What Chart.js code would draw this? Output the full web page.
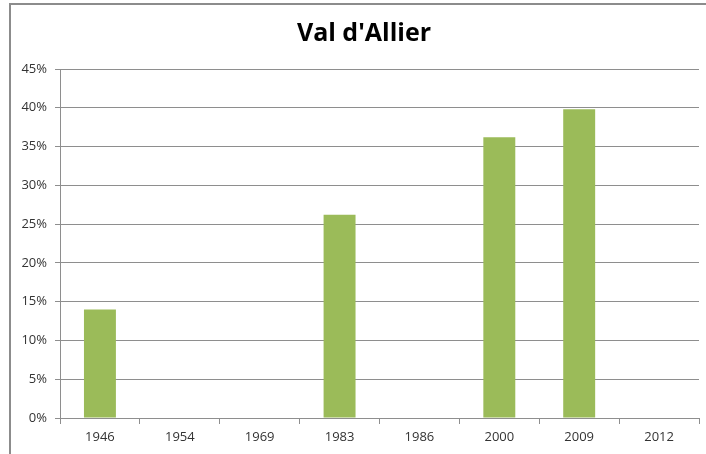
<!DOCTYPE html>
<html>
<head>
<meta charset="utf-8">
<script src="https://cdn.jsdelivr.net/npm/chart.js@4"></script>
<style>
  html, body { margin: 0; padding: 0; background: #fff; }
  #wrap { position: relative; width: 706px; height: 454px; }
  #frame {
    position: absolute; left: 9px; top: 3px; right: -4px; bottom: -4px;
    border-left: 2px solid #8c8c8c; border-top: 2px solid #8c8c8c;
    pointer-events: none;
  }
  canvas { position: absolute; left: 0; top: 0; }
</style>
</head>
<body>
<div id="wrap">
  <canvas id="chart" width="706" height="454"></canvas>
  <div id="frame"></div>
</div>
<script>
const years = ['1946', '1954', '1969', '1983', '1986', '2000', '2009', '2012'];
const shares = [14.0, 0, 0, 26.2, 0, 36.2, 39.8, 0];
const chartTitle = "Val d'Allier";

const gridGray = '#8e8e8e';
const labelColor = '#333333';

// title is centred on the outer frame, not on the canvas
const frameTitle = {
  id: 'frameTitle',
  afterDraw(chart) {
    const ctx = chart.ctx;
    ctx.save();
    ctx.font = 'bold 25px "Open Sans"';
    ctx.fillStyle = '#000';
    ctx.textAlign = 'center';
    ctx.textBaseline = 'middle';
    ctx.fillText(chartTitle, 364, 34);
    ctx.restore();
  }
};

new Chart(document.getElementById('chart'), {
  type: 'bar',
  data: {
    labels: years,
    datasets: [{
      data: shares,
      backgroundColor: '#9bbb59',
      barPercentage: 0.4,
      categoryPercentage: 1
    }]
  },
  options: {
    responsive: false,
    animation: false,
    layout: { padding: { left: 0, right: 7, top: 69, bottom: 0 } },
    plugins: {
      legend: { display: false },
      tooltip: { enabled: false },
      title: { display: false }
    },
    scales: {
      x: {
        grid: {
          offset: true,
          drawOnChartArea: false,
          color: gridGray,
          tickLength: 6
        },
        border: { color: gridGray },
        ticks: {
          color: labelColor,
          font: { family: 'Open Sans', size: 13 },
          padding: 5,
          maxRotation: 0
        },
        afterFit: s => { s.height = 36; }
      },
      y: {
        min: 0,
        max: 45,
        ticks: {
          stepSize: 5,
          color: labelColor,
          font: { family: 'Open Sans', size: 13 },
          padding: 8,
          callback: v => v + '%'
        },
        grid: { color: gridGray, tickLength: 5 },
        border: { color: gridGray },
        afterFit: s => { s.width = 60; }
      }
    }
  },
  plugins: [frameTitle]
});
</script>
</body>
</html>
